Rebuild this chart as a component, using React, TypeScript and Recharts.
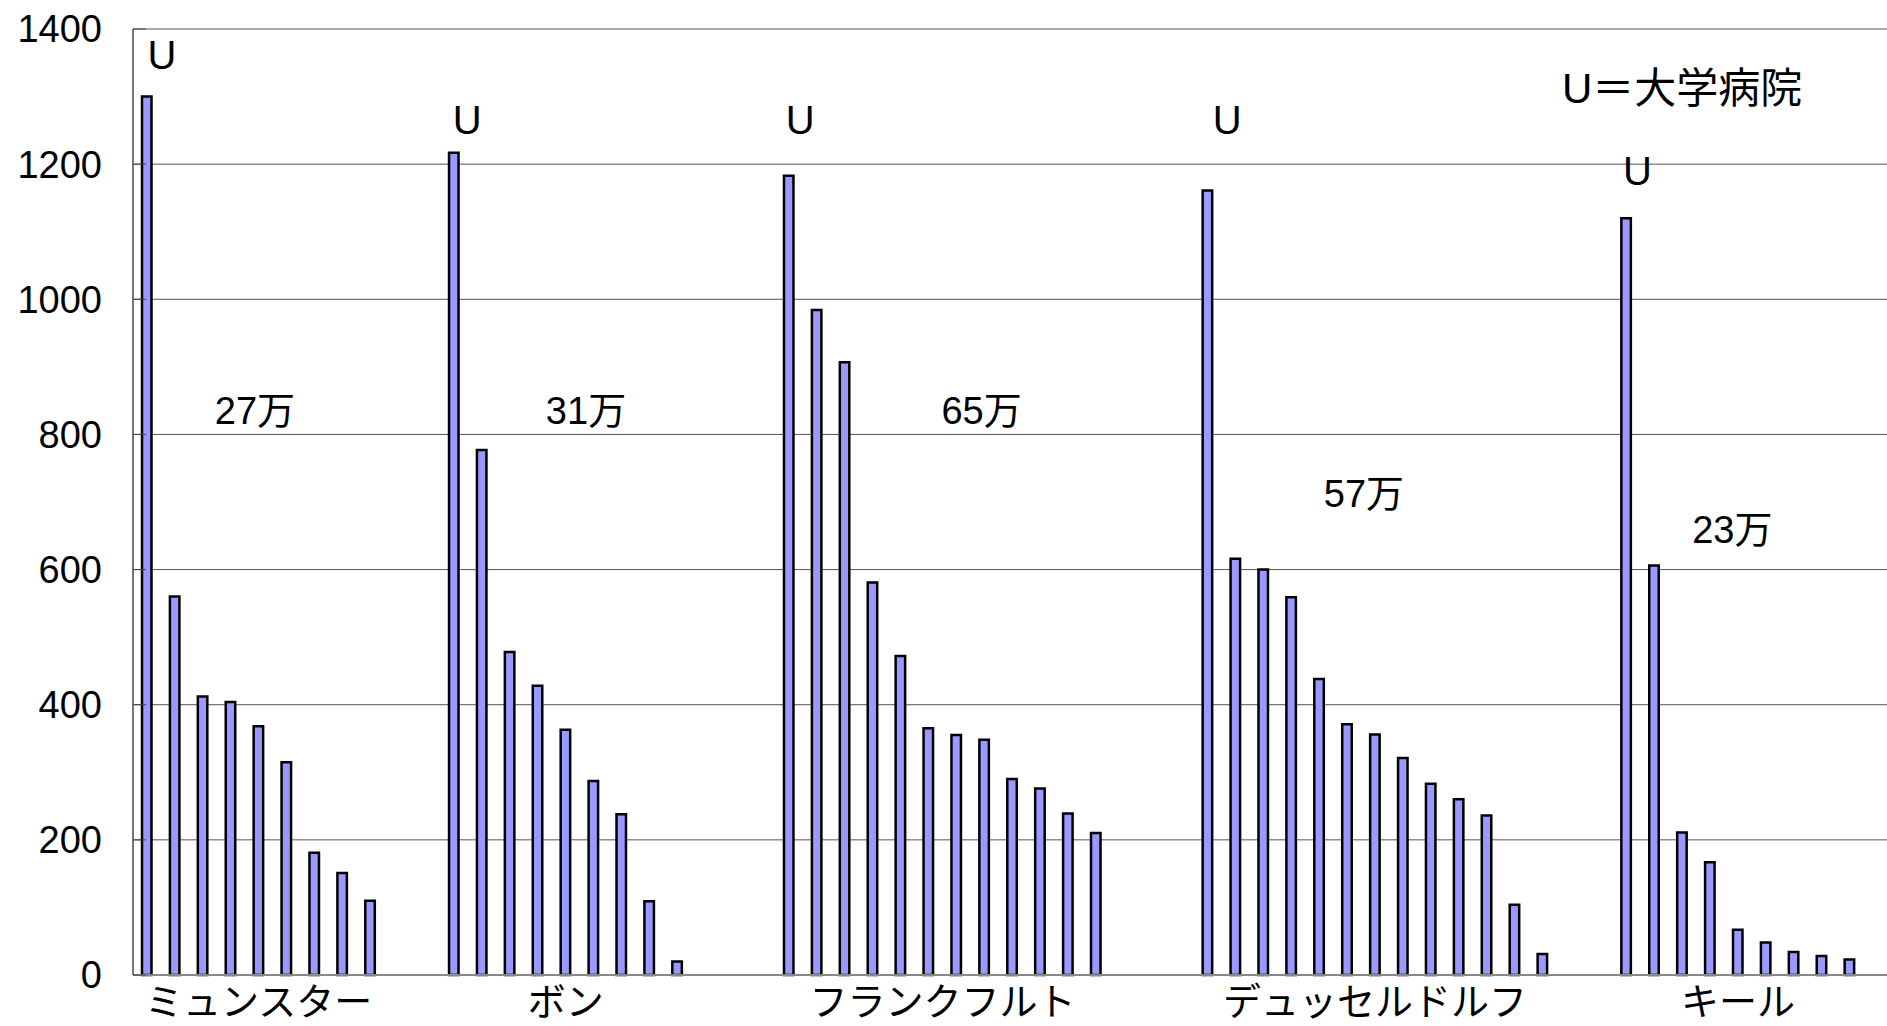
import React from 'react';
import { BarChart, Bar, XAxis, YAxis, CartesianGrid, ReferenceDot } from 'recharts';

const cities = ['ミュンスター', 'ボン', 'フランクフルト', 'デュッセルドルフ', 'キール'];
const blankBefore = [0, 2, 3, 3, 2]; // empty category slots in front of each city
const munster = [1300, 560, 412, 404, 368, 315, 181, 151, 110];
const bonn = [1217, 777, 478, 428, 363, 287, 238, 109, 20];
const frankfurt = [1183, 984, 907, 581, 472, 365, 355, 348, 290, 276, 239, 210];
const dusseldorf = [1161, 616, 600, 559, 438, 371, 356, 321, 283, 260, 236, 104, 31];
const kiel = [1120, 606, 211, 167, 67, 48, 34, 28, 23];
const populations = ['27万', '31万', '65万', '57万', '23万'];
const yTicks = [0, 200, 400, 600, 800, 1000, 1200, 1400];

// text anchors in data units: [slot, value]
const uMarks = [[0.54, 1362], [11.47, 1266], [23.4, 1266], [38.7, 1266], [53.4, 1190]];
const popMarks = [[3.87, 835], [15.73, 835], [29.9, 835], [43.6, 713], [56.8, 659]];
const legendText = 'U＝大学病院';
const legendMark = [55, 1313];

const groups = [munster, bonn, frankfurt, dusseldorf, kiel];
const data: { slot: number; beds: number }[] = [];
const cityTicks: number[] = [];
let slot = 0;
groups.forEach((vals, g) => {
  slot += blankBefore[g];
  vals.forEach((v, i) => data.push({ slot: slot + i, beds: v }));
  cityTicks.push(slot + (vals.length - 1) / 2);
  slot += vals.length;
});

const FONT = 38;
const textLabel = (value: string, size = FONT) => ({
  value,
  position: 'center' as const,
  fontSize: size,
  fill: '#000',
});

export default function App() {
  return (
    <div
      style={{
        position: 'absolute',
        left: 0,
        top: 0,
        width: 1887,
        height: 1026,
        background: '#fff',
        fontFamily: "'Liberation Sans', Arial, 'Noto Sans CJK JP', sans-serif",
        overflow: 'hidden',
      }}
    >
      <BarChart width={1887} height={1026} data={data} margin={{ top: 29, right: 0, bottom: 0, left: 0 }}>
        <CartesianGrid vertical={false} stroke="#555" strokeWidth={1} />
        <XAxis
          type="number"
          dataKey="slot"
          domain={[-0.5, 62.34]}
          ticks={cityTicks}
          interval={0}
          tickFormatter={(v: number) => cities[cityTicks.indexOf(v)]}
          height={51}
          tickLine={false}
          tickMargin={7}
          axisLine={{ stroke: '#888', strokeWidth: 2 }}
          tick={{ fontSize: FONT, fill: '#000', fontFamily: "'Noto Sans CJK JP', sans-serif" }}
        />
        <YAxis
          domain={[0, 1400]}
          ticks={yTicks}
          interval={0}
          width={133}
          tickSize={-13}
          tickMargin={44}
          tickLine={{ stroke: '#444' }}
          axisLine={{ stroke: '#777', strokeWidth: 2 }}
          tick={{ fontSize: FONT, fill: '#000' }}
        />
        <Bar dataKey="beds" barSize={9.5} fill="#9999ff" stroke="#000" strokeWidth={2.5} isAnimationActive={false} />
        {uMarks.map(([x, y], i) => (
          <ReferenceDot key={`u-${i}`} x={x} y={y} r={0} stroke="none" fill="none" label={textLabel('U', 40)} />
        ))}
        {popMarks.map(([x, y], i) => (
          <ReferenceDot key={`p-${i}`} x={x} y={y} r={0} stroke="none" fill="none" label={textLabel(populations[i])} />
        ))}
        <ReferenceDot x={legendMark[0]} y={legendMark[1]} r={0} stroke="none" fill="none" label={textLabel(legendText, 42)} />
      </BarChart>
    </div>
  );
}
